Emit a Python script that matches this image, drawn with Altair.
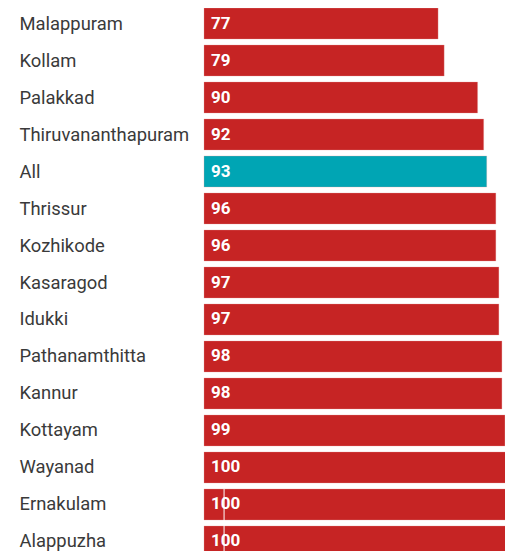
import altair as alt
import pandas as pd

districts = ["Malappuram", "Kollam", "Palakkad", "Thiruvananthapuram", "All",
             "Thrissur", "Kozhikode", "Kasaragod", "Idukki", "Pathanamthitta",
             "Kannur", "Kottayam", "Wayanad", "Ernakulam", "Alappuzha"]
values = [77, 79, 90, 92, 93, 96, 96, 97, 97, 98, 98, 99, 100, 100, 100]
highlight = ["no", "no", "no", "no", "yes", "no", "no", "no", "no", "no",
             "no", "no", "no", "no", "no"]

df = pd.DataFrame({"district": districts, "value": values, "hl": highlight})

rule_df = pd.DataFrame({"district": ["Ernakulam"], "x": [6.6]})

H = 549
W = 301
X_RANGE = [0, 304]

y_enc = alt.Y("district:N", sort=districts,
              scale=alt.Scale(paddingInner=0.16, paddingOuter=0),
              axis=alt.Axis(title=None, ticks=False, domain=False, labelAlign="left",
                            labelPadding=185, labelFont="Roboto", labelFontSize=18.4,
                            labelColor="#3a3a3a", labelLimit=200))

bars = alt.Chart(df).mark_bar(stroke="#e8a0a0", strokeWidth=0.5, strokeOpacity=0.6).encode(
    y=y_enc,
    x=alt.X("value:Q", scale=alt.Scale(domain=[0, 100], nice=False, range=X_RANGE), axis=None),
    color=alt.Color("hl:N", scale=alt.Scale(domain=["no", "yes"], range=["#c62424", "#00a5b4"]),
                    legend=None),
)

labels = alt.Chart(df).mark_text(align="left", baseline="middle", dx=7, color="white",
                                 font="Roboto", fontSize=17, fontWeight="bold").encode(
    y=alt.Y("district:N", sort=districts),
    x=alt.datum(0),
    text="value:Q",
)

rule = alt.Chart(rule_df).mark_rule(color="white", strokeWidth=1).encode(
    x=alt.X("x:Q"),
    y=alt.Y("district:N", sort=districts, bandPosition=0),
    y2=alt.value(H),
)

chart = alt.layer(bars, labels, rule).properties(
    width=W, height=H,
    autosize=alt.AutoSizeParams(type="none"),
    padding={"left": 196, "top": 0, "right": 0, "bottom": 0},
).configure_view(stroke=None)

chart.save("out.html", embed_options={"renderer": "svg", "actions": False})
